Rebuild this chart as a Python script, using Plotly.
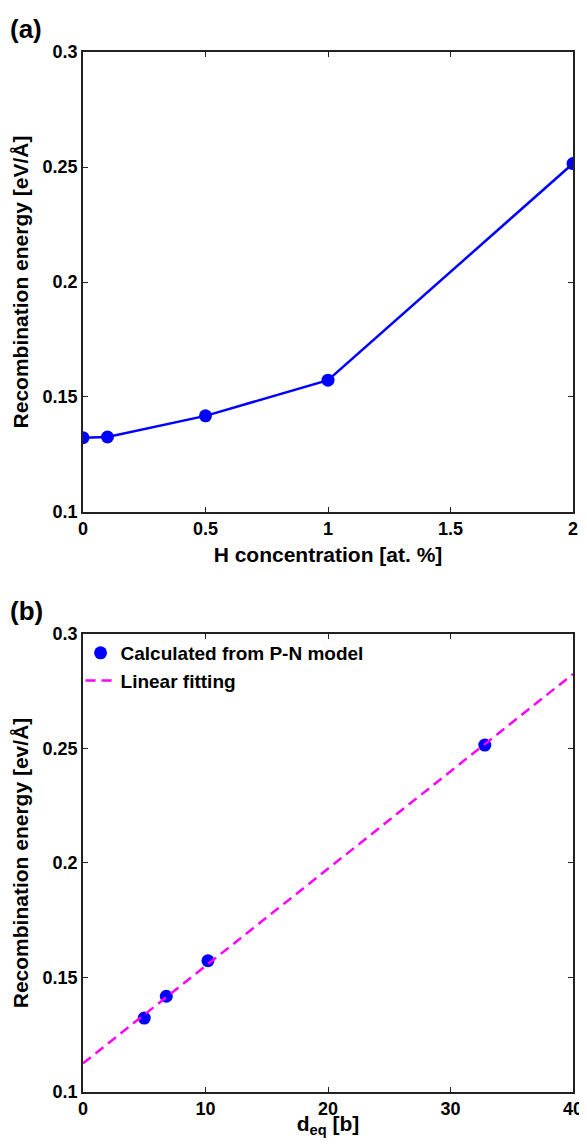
import plotly.graph_objects as go

# Panel (a)
h_conc = [0, 0.1, 0.5, 1, 2]
energy_a = [0.1323, 0.1326, 0.1418, 0.1573, 0.2515]

# Panel (b)
d_eq = [5.0, 6.8, 10.2, 32.8]
energy_b = [0.1323, 0.1418, 0.1573, 0.2515]
fit_x = [0, 40]
fit_y = [0.1125, 0.2825]

y_ticks = [0.1, 0.15, 0.2, 0.25, 0.3]
y_ticktext = ["0.1", "0.15", "0.2", "0.25", "0.3"]
xa_ticks = [0, 0.5, 1, 1.5, 2]
xa_ticktext = ["0", "0.5", "1", "1.5", "2"]
xb_ticks = [0, 10, 20, 30, 40]

FONT = "Liberation Sans, Arial, sans-serif"
fig = go.Figure()

fig.add_trace(go.Scatter(x=h_conc, y=energy_a, mode="lines+markers",
                         line=dict(color="#0000FF", width=2.5),
                         marker=dict(color="#0000FF", size=13),
                         showlegend=False, xaxis="x", yaxis="y"))
fig.add_trace(go.Scatter(x=d_eq, y=energy_b, mode="markers",
                         marker=dict(color="#0000FF", size=13),
                         name="<b>Calculated from P-N model</b>",
                         xaxis="x2", yaxis="y2"))
fig.add_trace(go.Scatter(x=fit_x, y=fit_y, mode="lines",
                         line=dict(color="#FF00FF", width=2.5, dash="10px,6px"),
                         name="<b>Linear fitting</b>",
                         xaxis="x2", yaxis="y2"))

axis_common = dict(showline=True, linecolor="#222", linewidth=1.5, mirror="ticks",
                   ticks="inside", ticklen=5, tickwidth=1.2, tickcolor="#222",
                   showgrid=False, zeroline=False, automargin=False,
                   ticklabeloverflow="allow",
                   tickfont=dict(family=FONT, size=18, color="black", weight="bold"))
title_font = dict(family=FONT, size=21, color="black", weight="bold")

fig.update_layout(
    width=579, height=1130,
    margin=dict(l=75, r=14, t=44, b=46, autoexpand=False),
    paper_bgcolor="white", plot_bgcolor="white",
    xaxis=dict(domain=[0, 1], range=[0, 2], tickvals=xa_ticks, ticktext=xa_ticktext,
               anchor="y",
               title=dict(text="H concentration [at. %]", font=title_font, standoff=9),
               **axis_common),
    yaxis=dict(domain=[0.5577, 1], range=[0.1, 0.3], tickvals=y_ticks,
               ticktext=y_ticktext, anchor="x",
               title=dict(text="Recombination energy [eV/Å]", font=title_font, standoff=8),
               **axis_common),
    xaxis2=dict(domain=[0, 1], range=[0, 40], tickvals=xb_ticks, anchor="y2",
                title=dict(text="d<sub>eq</sub> [b]", font=title_font, standoff=12),
                **axis_common),
    yaxis2=dict(domain=[0, 0.4404], range=[0.1, 0.3], tickvals=y_ticks,
                ticktext=y_ticktext, anchor="x2",
                title=dict(text="Recombination energy [ev/Å]", font=title_font, standoff=8),
                **axis_common),
    legend=dict(x=-0.005, y=0.4404, xanchor="left", yanchor="top",
                bgcolor="rgba(0,0,0,0)", font=dict(family=FONT, size=19, color="black"),
                itemwidth=30, tracegroupgap=0),
    annotations=[
        dict(text="<b>(a)</b>", xref="paper", yref="paper", x=-0.153, y=1.0,
             xanchor="left", yanchor="bottom", yshift=6, showarrow=False,
             font=dict(family=FONT, size=26, color="black")),
        dict(text="<b>(b)</b>", xref="paper", yref="paper", x=-0.153, y=0.4404,
             xanchor="left", yanchor="bottom", yshift=6, showarrow=False,
             font=dict(family=FONT, size=26, color="black")),
    ],
)

fig.write_html("out.html")
